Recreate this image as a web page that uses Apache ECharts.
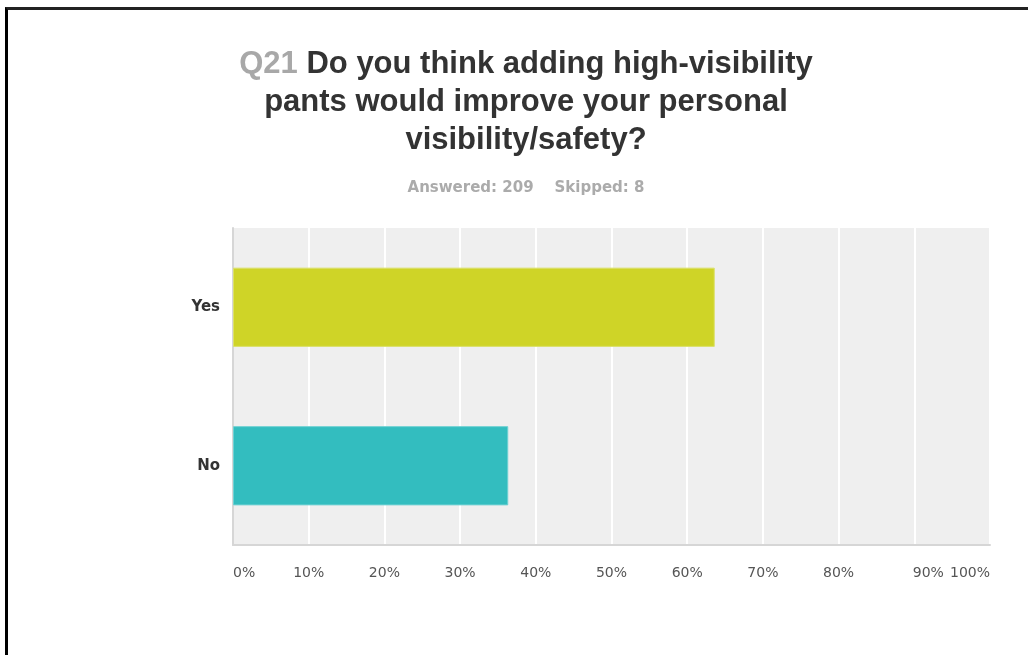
<!DOCTYPE html>
<html>
<head>
<meta charset="utf-8">
<script src="https://cdn.jsdelivr.net/npm/echarts@6/dist/echarts.min.js"></script>
<style>
  html, body { margin: 0; padding: 0; background: #fff; }
  #chart { width: 1028px; height: 655px; position: absolute; left: 0; top: 0; }
  #frame { position: absolute; left: 5px; top: 7px; width: 1023px; height: 648px;
           border-top: 3px solid #222; border-left: 3px solid #000; box-sizing: border-box; pointer-events: none; }
</style>
</head>
<body>
<div id="chart"></div>
<div id="frame"></div>
<script>
const questionNo = 'Q21';
const questionLines = ['Do you think adding high-visibility', 'pants would improve your personal', 'visibility/safety?'];
const answered = 209;
const skipped = 8;
const categories = ['Yes', 'No'];
const percents = [63.64, 36.36];
const barColors = ['#cfd427', '#33bdbf'];
const tickValues = [0, 10, 20, 30, 40, 50, 60, 70, 80, 90, 100];

const titleFont = 'Liberation Sans, Arial, sans-serif';
const bodyFont = 'DejaVu Sans, Verdana, sans-serif';

const chart = echarts.init(document.getElementById('chart'));
const titleText = '{q|' + questionNo + '} ' + questionLines[0] + '\n' + questionLines.slice(1).join('\n');

chart.setOption({
  animation: false,
  title: [
    {
      text: titleText,
      left: 521, top: 40, textAlign: 'center',
      textStyle: {
        fontFamily: titleFont,
        fontSize: 31, fontWeight: 'bold', color: '#333333', lineHeight: 38,
        rich: {
          q: { fontFamily: titleFont, fontSize: 31, fontWeight: 'bold', color: '#a8a8a8', lineHeight: 38 }
        }
      }
    },
    {
      text: 'Answered: ' + answered + '    Skipped: ' + skipped,
      left: 521, top: 176, textAlign: 'center',
      textStyle: { fontFamily: bodyFont, fontSize: 15, fontWeight: 'bold', color: '#ababab' }
    }
  ],
  grid: {
    left: 233, top: 228, right: 38, bottom: 110,
    show: true, backgroundColor: '#efefef', borderWidth: 0, containLabel: false
  },
  xAxis: {
    type: 'value', min: 0, max: 100, interval: 10,
    axisLine: { show: true, lineStyle: { color: '#d6d6d6', width: 2 } },
    axisTick: { show: false },
    splitLine: { show: true, lineStyle: { color: '#ffffff', width: 2 } },
    axisLabel: {
      margin: 21,
      alignMinLabel: 'left', alignMaxLabel: 'right',
      fontFamily: bodyFont, fontSize: 14, color: '#555555',
      formatter: function (v) { return v === 90 ? '{s|' + v + '%}' : v + '%'; },
      rich: { s: { padding: [0, 0, 0, 28], fontFamily: bodyFont, fontSize: 14, color: '#555555' } }
    }
  },
  yAxis: {
    type: 'category', data: categories, inverse: true,
    axisLine: { show: true, lineStyle: { color: '#d6d6d6', width: 2 } },
    axisTick: { show: false },
    axisLabel: { margin: 13, fontFamily: bodyFont, fontSize: 15, fontWeight: 'bold', color: '#333333' }
  },
  series: [{
    type: 'bar',
    barWidth: '50%',
    data: percents.map(function (v, i) {
      return { value: v, itemStyle: { color: barColors[i], borderColor: i === 0 ? '#dbe06a' : '#6fd0d2', borderWidth: 1 } };
    })
  }]
});
</script>
</body>
</html>
